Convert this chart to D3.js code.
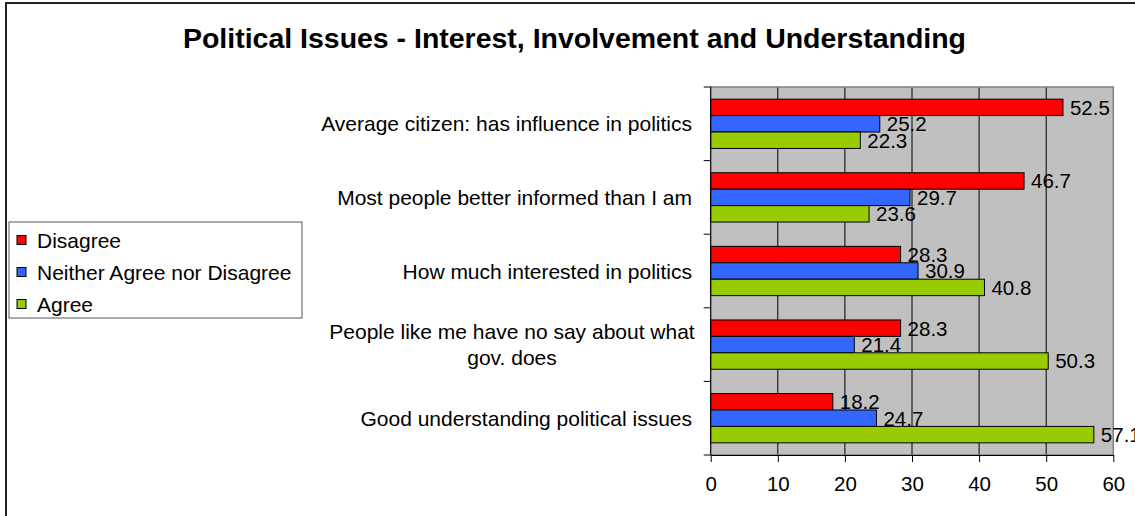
<!DOCTYPE html>
<html>
<head>
<meta charset="utf-8">
<script src="https://cdn.jsdelivr.net/npm/d3@7"></script>
<style>
  html, body { margin: 0; padding: 0; background: #fff; }
  svg { display: block; font-family: "Liberation Sans", Arial, sans-serif; }
</style>
</head>
<body>
<svg id="chart" width="1135" height="516"></svg>
<script>
const title = "Political Issues - Interest, Involvement and Understanding";
const categories = [
  "Average citizen: has influence in politics",
  "Most people better informed than I am",
  "How much interested in politics",
  "People like me have no say about what gov. does",
  "Good understanding political issues"
];
const seriesNames = ["Disagree", "Neither Agree nor Disagree", "Agree"];
const seriesColors = ["#ff0000", "#3366ff", "#99cc00"];
const disagree = [52.5, 46.7, 28.3, 28.3, 18.2];
const neither  = [25.2, 29.7, 30.9, 21.4, 24.7];
const agree    = [22.3, 23.6, 40.8, 50.3, 57.1];
const xTicks = [0, 10, 20, 30, 40, 50, 60];

(function () {
const series = [disagree, neither, agree];
const svg = d3.select("#chart");
const FS = 21;

// outer frame
svg.append("rect").attr("x", 6).attr("y", 3).attr("width", 1200).attr("height", 600)
  .attr("fill", "none").attr("stroke", "#222").attr("stroke-width", 2);

// title
svg.append("text").attr("x", 574.5).attr("y", 47.5)
  .attr("text-anchor", "middle").attr("font-size", 27).attr("font-weight", "bold")
  .attr("fill", "#000").attr("textLength", 783).attr("lengthAdjust", "spacingAndGlyphs")
  .text(title);

const pL = 710.7, pR = 1113.3, pT = 87, pB = 455;
const x = d3.scaleLinear().domain([0, 60]).range([pL, pR]);
const y = d3.scaleBand().domain(categories).range([pT, pB]).paddingInner(0).paddingOuter(0);
const inner = d3.scaleBand().domain(seriesNames).range([0, y.bandwidth()]).paddingInner(0).paddingOuter(0.74);

// plot background
svg.append("rect").attr("x", pL).attr("y", pT).attr("width", pR - pL).attr("height", pB - pT)
  .attr("fill", "#c0c0c0");

// gridlines
svg.append("g").selectAll("line").data(xTicks.slice(1, -1)).join("line")
  .attr("x1", d => x(d)).attr("x2", d => x(d)).attr("y1", pT).attr("y2", pB)
  .attr("stroke", "#000").attr("stroke-width", 1);

// plot border
svg.append("rect").attr("x", pL).attr("y", pT).attr("width", pR - pL).attr("height", pB - pT)
  .attr("fill", "none").attr("stroke", "#808080").attr("stroke-width", 1.5);

// bars
const groups = svg.append("g").selectAll("g").data(categories).join("g")
  .attr("transform", d => `translate(0,${y(d)})`);
groups.each(function(cat, ci) {
  const g = d3.select(this);
  seriesNames.forEach((s, si) => {
    const v = series[si][ci];
    g.append("rect").attr("x", x(0)).attr("y", inner(s))
      .attr("width", x(v) - x(0)).attr("height", inner.bandwidth())
      .attr("fill", seriesColors[si]).attr("stroke", "#000").attr("stroke-width", 1);
  });
});
groups.each(function(cat, ci) {
  const g = d3.select(this);
  seriesNames.forEach((s, si) => {
    const v = series[si][ci];
    g.append("text").attr("x", x(v) + 7).attr("y", inner(s) + inner.bandwidth() / 2)
      .attr("dy", "0.36em").attr("font-size", 20.5).attr("fill", "#000").text(v.toFixed(1));
  });
});

// x axis
const xAxis = d3.axisBottom(x).tickValues(xTicks).tickSize(7).tickPadding(14).tickSizeOuter(0);
const gx = svg.append("g").attr("transform", `translate(0,${pB})`).call(xAxis);
gx.select(".domain").attr("stroke", "#000");
gx.selectAll("line").attr("stroke", "#000");
gx.selectAll("text").attr("font-size", 20.5).attr("font-family", "Liberation Sans, Arial, sans-serif").attr("fill", "#000");

// y axis ticks at category boundaries
const bounds = categories.map(c => y(c)).concat([pB]);
svg.append("g").selectAll("line").data(bounds).join("line")
  .attr("x1", pL - 7).attr("x2", pL).attr("y1", d => d).attr("y2", d => d)
  .attr("stroke", "#000");
svg.append("line").attr("x1", pL).attr("x2", pL).attr("y1", pT).attr("y2", pB).attr("stroke", "#000");

// category labels
const labelLines = {
  "People like me have no say about what gov. does": ["People like me have no say about what", "gov. does"]
};
categories.forEach(c => {
  const cy = y(c) + y.bandwidth() / 2;
  if (labelLines[c]) {
    const lines = labelLines[c];
    const txt = svg.append("text").attr("font-size", FS).attr("fill", "#000").attr("text-anchor", "middle");
    lines.forEach((ln, i) => {
      txt.append("tspan").attr("x", 512).attr("y", cy - 13 + i * 26).attr("dy", "0.36em").text(ln);
    });
  } else {
    svg.append("text").attr("x", 692).attr("y", cy).attr("dy", "0.36em")
      .attr("text-anchor", "end").attr("font-size", FS).attr("fill", "#000").text(c);
  }
});

// legend
const lg = svg.append("g");
lg.append("rect").attr("x", 9).attr("y", 222).attr("width", 293).attr("height", 96)
  .attr("fill", "#fff").attr("stroke", "#555").attr("stroke-width", 1);
seriesNames.forEach((s, i) => {
  const ly = 240 + i * 32;
  lg.append("rect").attr("x", 17).attr("y", ly - 4.5).attr("width", 9).attr("height", 9)
    .attr("fill", seriesColors[i]).attr("stroke", "#000").attr("stroke-width", 1);
  lg.append("text").attr("x", 37).attr("y", ly).attr("dy", "0.36em").attr("font-size", FS)
    .attr("fill", "#000").text(s);
});
})();
</script>
</body>
</html>
